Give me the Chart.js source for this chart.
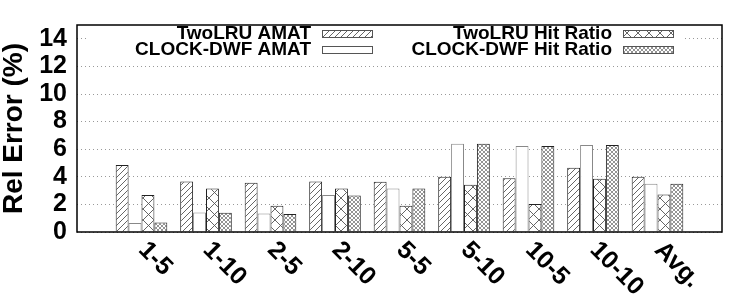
<!DOCTYPE html>
<html lang="en">
<head>
    <meta charset="UTF-8">
    <title>Rel Error</title>
    <script src="https://cdn.jsdelivr.net/npm/chart.js"></script>
    <style>
        html, body { margin: 0; padding: 0; background: #fff; }
        .chart-box { width: 750px; height: 300px; position: relative; }
    </style>
</head>
<body>
    <div class="chart-box">
        <canvas id="errChart"></canvas>
    </div>

    <script>
        // data
        const categories = ['1-5', '1-10', '2-5', '2-10', '5-5', '5-10', '10-5', '10-10', 'Avg.'];
        const seriesNames = ['TwoLRU AMAT', 'CLOCK-DWF AMAT', 'TwoLRU Hit Ratio', 'CLOCK-DWF Hit Ratio'];
        const twoLruAmat = [4.85, 3.66, 3.57, 3.66, 3.64, 4.01, 3.90, 4.65, 4.01];
        const clockAmat = [0.65, 1.41, 1.34, 2.68, 3.15, 6.39, 6.24, 6.31, 3.50];
        const twoLruHit = [2.68, 3.15, 1.90, 3.15, 1.90, 3.43, 2.02, 3.85, 2.72];
        const clockHit = [0.68, 1.39, 1.31, 2.65, 3.15, 6.39, 6.24, 6.31, 3.50];
        const yTicks = [0, 2, 4, 6, 8, 10, 12, 14];

        const FONT = "'Liberation Sans', Arial, sans-serif";

        // hatch fills, gnuplot style
        function makePattern(size, color, width, kinds) {
            const c = document.createElement('canvas');
            c.width = size;
            c.height = size;
            const g = c.getContext('2d');
            g.fillStyle = '#fff';
            g.fillRect(0, 0, size, size);
            g.strokeStyle = color;
            g.lineWidth = width;
            g.beginPath();
            if (kinds.includes('/')) {
                g.moveTo(-1, size + 1); g.lineTo(size + 1, -1);
                g.moveTo(-1, 1); g.lineTo(1, -1);
                g.moveTo(size - 1, size + 1); g.lineTo(size + 1, size - 1);
            }
            if (kinds.includes('\\')) {
                g.moveTo(-1, -1); g.lineTo(size + 1, size + 1);
                g.moveTo(size - 1, -1); g.lineTo(size + 1, 1);
                g.moveTo(-1, size - 1); g.lineTo(1, size + 1);
            }
            g.stroke();
            return g.createPattern(c, 'repeat');
        }

        const ctx0 = document.getElementById('errChart').getContext('2d');
        const fills = [
            makePattern(6, '#555', 0.9, ['/']),
            '#fff',
            makePattern(11, '#555', 0.9, ['/', '\\']),
            makePattern(4, '#666', 0.7, ['/', '\\'])
        ];
        const borders = ['#222', '#888', '#222', '#222'];
        const values = [twoLruAmat, clockAmat, twoLruHit, clockHit];

        // frame, rotated x labels and the boxed legend
        const decorPlugin = {
            id: 'decor',
            afterDatasetsDraw(chart) {
                const {ctx, chartArea: a, scales} = chart;
                ctx.save();

                // legend background hides the grid
                ctx.fillStyle = '#fff';
                ctx.fillRect(88, 20, 595, 45);

                ctx.font = 'bold 19px ' + FONT;
                ctx.textAlign = 'right';
                ctx.textBaseline = 'middle';
                const cols = [311, 612];
                const rows = [34, 50];
                const order = [[0, 0], [1, 0], [0, 1], [1, 1]];
                order.forEach((pos, i) => {
                    const tx = cols[pos[1]];
                    const ty = rows[pos[0]];
                    ctx.fillStyle = '#000';
                    ctx.fillText(seriesNames[i], tx, ty);
                    ctx.fillStyle = fills[i];
                    ctx.fillRect(tx + 11, ty - 3, 50, 7);
                    ctx.strokeStyle = '#555';
                    ctx.lineWidth = 1;
                    ctx.strokeRect(tx + 11.5, ty - 3.5, 50, 7);
                });

                // plot frame
                ctx.strokeStyle = '#000';
                ctx.lineWidth = 1.5;
                ctx.strokeRect(a.left, a.top, a.right - a.left, a.bottom - a.top);

                // x labels, rotated downwards
                ctx.fillStyle = '#000';
                ctx.font = 'bold 25px ' + FONT;
                ctx.textAlign = 'left';
                ctx.textBaseline = 'alphabetic';
                categories.forEach((lab, i) => {
                    const x = scales.x.getPixelForValue(i + 1);
                    ctx.save();
                    ctx.translate(x - 4, a.bottom + 19);
                    ctx.rotate(Math.PI / 4);
                    ctx.fillText(lab, 0, 0);
                    ctx.restore();
                });
                ctx.restore();
            }
        };

        new Chart(ctx0, {
            type: 'bar',
            data: {
                datasets: seriesNames.map((name, i) => ({
                    label: name,
                    data: values[i].map((v, j) => ({x: j + 1, y: v})),
                    backgroundColor: fills[i],
                    borderColor: borders[i],
                    borderWidth: 1,
                    borderSkipped: 'bottom',
                    categoryPercentage: 0.8,
                    barPercentage: 1
                }))
            },
            options: {
                responsive: true,
                maintainAspectRatio: false,
                animation: false,
                layout: { padding: { top: 18, right: 28, left: 0, bottom: 0 } },
                plugins: {
                    legend: { display: false },
                    tooltip: { enabled: false }
                },
                scales: {
                    x: {
                        type: 'linear',
                        min: 0,
                        max: 10,
                        offset: false,
                        grid: { display: false, offset: false },
                        border: { display: false },
                        ticks: { display: false },
                        afterFit: s => { s.height = 68; }
                    },
                    y: {
                        min: 0,
                        max: 15,
                        afterBuildTicks: s => { s.ticks = yTicks.map(v => ({value: v})); },
                        afterFit: s => { s.width = 77; },
                        border: { display: false, dash: [1, 3] },
                        grid: {
                            color: '#999',
                            lineWidth: 1,
                            drawTicks: false
                        },
                        ticks: {
                            autoSkip: false,
                            padding: 10,
                            color: '#000',
                            font: { family: FONT, size: 25, weight: 'bold' }
                        },
                        title: {
                            display: true,
                            text: 'Rel Error (%)',
                            color: '#000',
                            padding: 0,
                            font: { family: FONT, size: 28, weight: 'bold', lineHeight: 1 }
                        }
                    }
                }
            },
            plugins: [decorPlugin]
        });
    </script>
</body>
</html>
